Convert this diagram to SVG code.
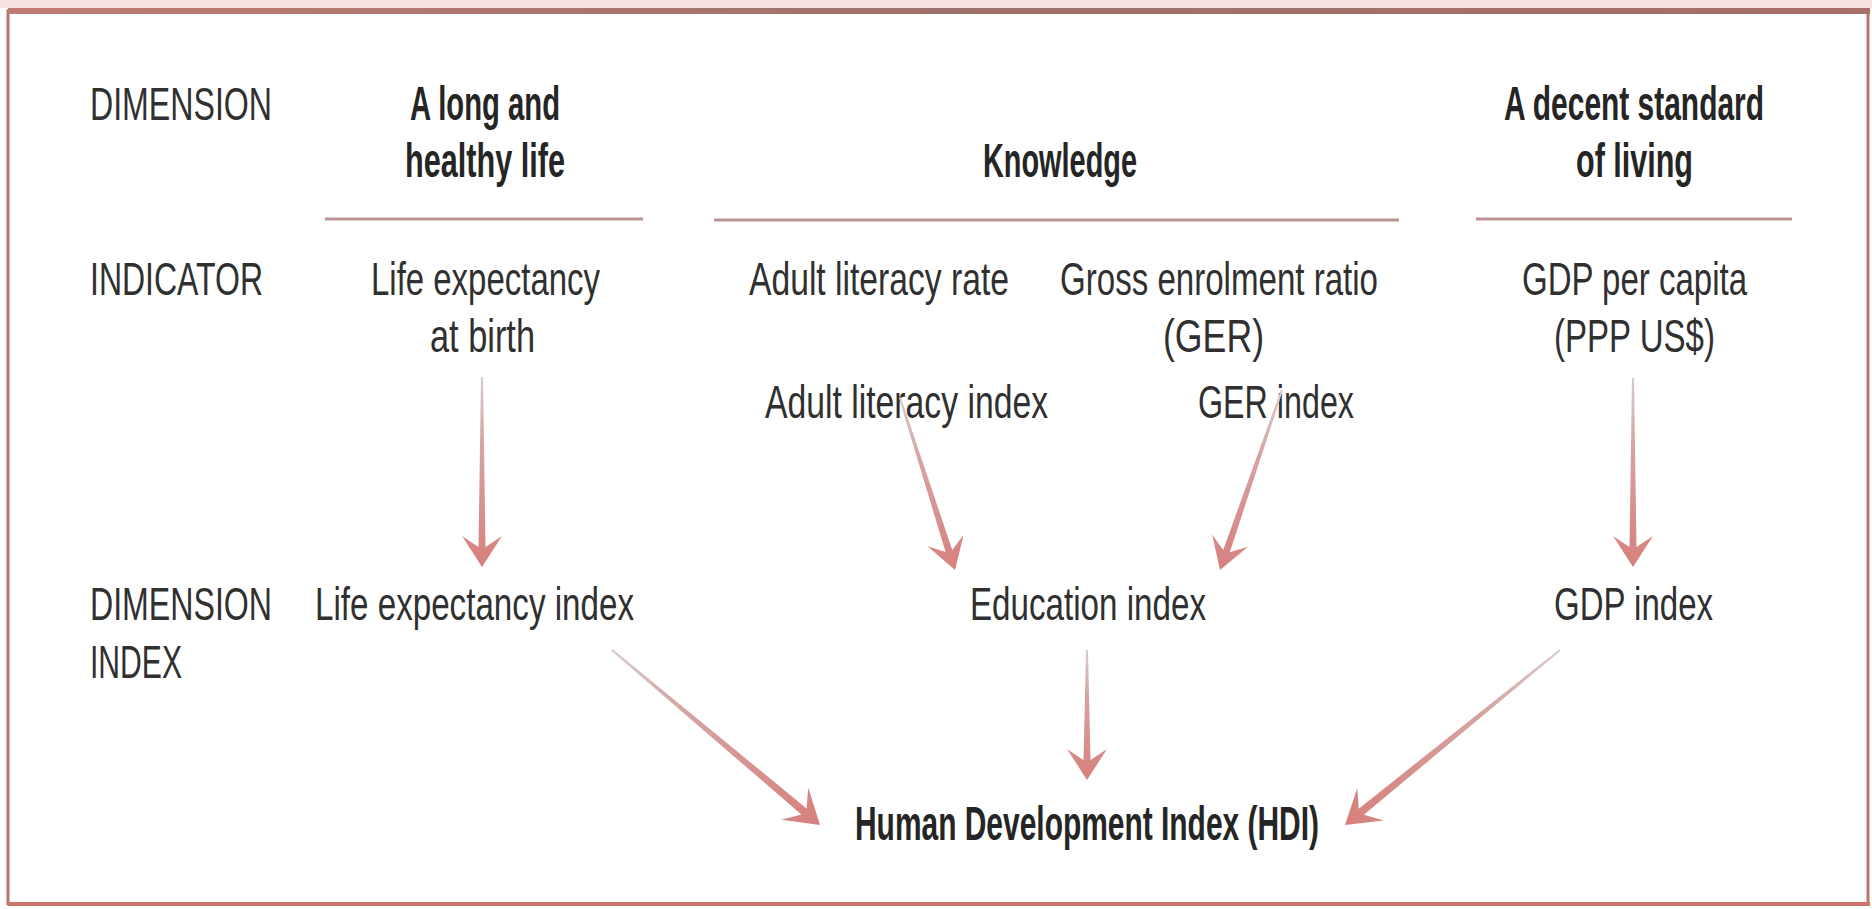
<svg xmlns="http://www.w3.org/2000/svg" width="1872" height="909" viewBox="0 0 1872 909">
<defs>
<style>
.t{font-family:"Liberation Sans",Arial,sans-serif;font-size:33px;fill:#303030}
.b{font-family:"Liberation Sans",Arial,sans-serif;font-size:30px;font-weight:bold;fill:#252525}
.rule{stroke:#bb9292;stroke-width:3;fill:none}
.arr{fill:url(#ag)}
</style>
<linearGradient id="ag" x1="0" y1="0" x2="1" y2="0">
<stop offset="0" stop-color="#d8cccc"/>
<stop offset="0.35" stop-color="#d6a4a3"/>
<stop offset="1" stop-color="#d7807d"/>
</linearGradient>
<linearGradient id="topg" x1="0" y1="0" x2="1" y2="0">
<stop offset="0" stop-color="#c07b74"/>
<stop offset="0.5" stop-color="#9e726c"/>
<stop offset="1" stop-color="#a86e68"/>
</linearGradient>
</defs>
<rect x="0" y="0" width="1872" height="909" fill="#ffffff"/>
<g id="frame">
<rect x="0" y="0" width="1872" height="8" fill="#f7e1e1"/>
<rect x="8" y="11" width="1860" height="893" fill="none" stroke="#b8746d" stroke-width="3"/>
<rect x="8" y="8" width="1862" height="6" fill="url(#topg)"/>
<rect x="8" y="902" width="1862" height="4" fill="#cf7469"/>
</g>
<g id="row-labels">
<text class="t" transform="translate(90,120) scale(1,1.42)" textLength="182" lengthAdjust="spacingAndGlyphs">DIMENSION</text>
<text class="t" transform="translate(90,295) scale(1,1.42)" textLength="173" lengthAdjust="spacingAndGlyphs">INDICATOR</text>
<text class="t" transform="translate(90,620) scale(1,1.42)" textLength="182" lengthAdjust="spacingAndGlyphs">DIMENSION</text>
<text class="t" transform="translate(90,678) scale(1,1.42)" textLength="92" lengthAdjust="spacingAndGlyphs">INDEX</text>
</g>
<g id="dim-health">
<text class="b" transform="translate(410,120) scale(1,1.58)" textLength="150" lengthAdjust="spacingAndGlyphs">A long and</text>
<text class="b" transform="translate(405,177) scale(1,1.58)" textLength="160" lengthAdjust="spacingAndGlyphs">healthy life</text>
<line class="rule" x1="325" y1="219" x2="643" y2="219"/>
</g>
<g id="dim-knowledge">
<text class="b" transform="translate(983,177) scale(1,1.58)" textLength="154" lengthAdjust="spacingAndGlyphs">Knowledge</text>
<line class="rule" x1="714" y1="220" x2="1399" y2="220"/>
</g>
<g id="dim-living">
<text class="b" transform="translate(1504,120) scale(1,1.58)" textLength="260" lengthAdjust="spacingAndGlyphs">A decent standard</text>
<text class="b" transform="translate(1576,177) scale(1,1.58)" textLength="117" lengthAdjust="spacingAndGlyphs">of living</text>
<line class="rule" x1="1476" y1="219" x2="1792" y2="219"/>
</g>
<g id="ind-life">
<text class="t" transform="translate(371,295) scale(1,1.42)" textLength="229" lengthAdjust="spacingAndGlyphs">Life expectancy</text>
<text class="t" transform="translate(430,352) scale(1,1.42)" textLength="105" lengthAdjust="spacingAndGlyphs">at birth</text>
</g>
<g id="ind-literacy">
<text class="t" transform="translate(749,295) scale(1,1.42)" textLength="260" lengthAdjust="spacingAndGlyphs">Adult literacy rate</text>
</g>
<g id="ind-ger">
<text class="t" transform="translate(1060,295) scale(1,1.42)" textLength="318" lengthAdjust="spacingAndGlyphs">Gross enrolment ratio</text>
<text class="t" transform="translate(1163,352) scale(1,1.42)" textLength="101" lengthAdjust="spacingAndGlyphs">(GER)</text>
</g>
<g id="ind-gdp">
<text class="t" transform="translate(1522,295) scale(1,1.42)" textLength="225" lengthAdjust="spacingAndGlyphs">GDP per capita</text>
<text class="t" transform="translate(1554,352) scale(1,1.42)" textLength="161" lengthAdjust="spacingAndGlyphs">(PPP US$)</text>
</g>
<g id="sub-literacy">
<text class="t" transform="translate(765,418) scale(1,1.42)" textLength="283" lengthAdjust="spacingAndGlyphs">Adult literacy index</text>
</g>
<g id="sub-ger">
<text class="t" transform="translate(1198,418) scale(1,1.42)" textLength="156" lengthAdjust="spacingAndGlyphs">GER index</text>
</g>
<g id="idx-life">
<text class="t" transform="translate(315,620) scale(1,1.42)" textLength="319" lengthAdjust="spacingAndGlyphs">Life expectancy index</text>
</g>
<g id="idx-education">
<text class="t" transform="translate(970,620) scale(1,1.42)" textLength="236" lengthAdjust="spacingAndGlyphs">Education index</text>
</g>
<g id="idx-gdp">
<text class="t" transform="translate(1554,620) scale(1,1.42)" textLength="159" lengthAdjust="spacingAndGlyphs">GDP index</text>
</g>
<g id="hdi">
<text class="b" transform="translate(855,840) scale(1,1.58)" textLength="464" lengthAdjust="spacingAndGlyphs">Human Development Index (HDI)</text>
</g>
<g id="connectors">
<g transform="translate(482,567) rotate(90)"><path class="arr" d="M0,0 L-31,-20 L-20,-3.5 L-190,-1 L-190,1 L-20,3.5 L-31,20 Z"/></g>
<g transform="translate(955,570) rotate(72.27)"><path class="arr" d="M0,0 L-31,-19 L-20,-3.5 L-181,-1 L-181,1 L-20,3.5 L-31,19 Z"/></g>
<g transform="translate(1220,570) rotate(109)"><path class="arr" d="M0,0 L-31,-19 L-20,-3.5 L-190,-1 L-190,1 L-20,3.5 L-31,19 Z"/></g>
<g transform="translate(1633,567) rotate(90)"><path class="arr" d="M0,0 L-31,-20 L-20,-3.5 L-189,-1 L-189,1 L-20,3.5 L-31,20 Z"/></g>
<g transform="translate(820,825) rotate(40.08)"><path class="arr" d="M0,0 L-33,-21 L-21,-4 L-272,-1 L-272,1 L-21,4 L-33,21 Z"/></g>
<g transform="translate(1087,780) rotate(90)"><path class="arr" d="M0,0 L-31,-20 L-20,-3.5 L-130,-1 L-130,1 L-20,3.5 L-31,20 Z"/></g>
<g transform="translate(1345,825) rotate(140.86)"><path class="arr" d="M0,0 L-33,-21 L-21,-4 L-277,-1 L-277,1 L-21,4 L-33,21 Z"/></g>
</g>
</svg>
